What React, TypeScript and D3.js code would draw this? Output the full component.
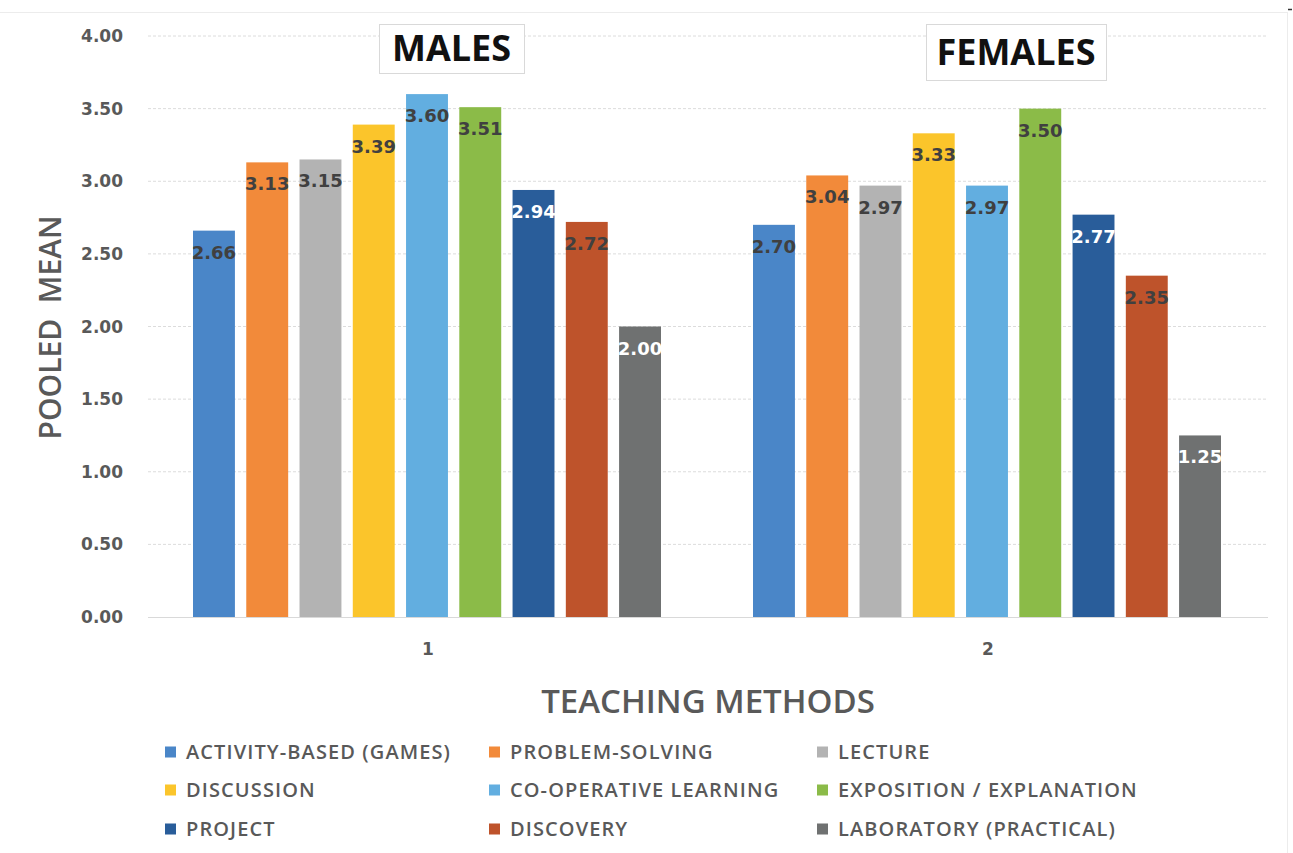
import React from "react";
import * as d3 from "d3";

// Pooled means by teaching method, for each gender group
const methods = [
  "ACTIVITY-BASED (GAMES)",
  "PROBLEM-SOLVING",
  "LECTURE",
  "DISCUSSION",
  "CO-OPERATIVE LEARNING",
  "EXPOSITION / EXPLANATION",
  "PROJECT",
  "DISCOVERY",
  "LABORATORY (PRACTICAL)",
];
const groups = ["1", "2"];
const groupTitles = ["MALES", "FEMALES"];
const malesMeans = [2.66, 3.13, 3.15, 3.39, 3.6, 3.51, 2.94, 2.72, 2.0];
const femalesMeans = [2.7, 3.04, 2.97, 3.33, 2.97, 3.5, 2.77, 2.35, 1.25];
const seriesColors = [
  "#4a86c8",
  "#f28a3a",
  "#b3b3b3",
  "#fbc52b",
  "#62aee0",
  "#8bbb48",
  "#295d9a",
  "#be532b",
  "#6f7171",
];
const labelColors = [
  "#404040",
  "#404040",
  "#404040",
  "#404040",
  "#404040",
  "#404040",
  "#ffffff",
  "#404040",
  "#ffffff",
];
const yTicks = [0, 0.5, 1, 1.5, 2, 2.5, 3, 3.5, 4];

const W = 1293;
const H = 853;
const plot = { left: 148, right: 1268, top: 36, bottom: 617 };

export default function App() {
  const values = [malesMeans, femalesMeans];
  const x0 = d3.scaleBand<string>().domain(groups).range([plot.left, plot.right]).padding(0);
  const x1 = d3
    .scaleBand<string>()
    .domain(methods)
    .range([45, 513])
    .paddingInner(0.213)
    .paddingOuter(0);
  const y = d3.scaleLinear().domain([0, 4]).range([plot.bottom, plot.top]);
  const fmt = d3.format(".2f");

  const legendCols = [165, 489, 817];
  const legendRows = [752, 790, 829];

  const titleBoxes = [
    { x: 379, y: 24, w: 145, h: 49 },
    { x: 926, y: 24, w: 180, h: 56 },
  ];

  return (
    <svg
      width={W}
      height={H}
      viewBox={`0 0 ${W} ${H}`}
      style={{ position: "absolute", left: 0, top: 0, background: "#fff" }}
    >
      <rect x={0} y={0} width={W} height={H} fill="#fff" />
      {/* outer chart frame */}
      <line x1={0} x2={1287} y1={12.5} y2={12.5} stroke="#ececec" strokeWidth={1} />
      <line x1={1287.5} x2={1287.5} y1={12} y2={853} stroke="#ececec" strokeWidth={1} />
      <line x1={1288} x2={1292} y1={9.5} y2={9.5} stroke="#333" strokeWidth={1.5} />

      {/* gridlines and y tick labels */}
      {yTicks.map((t) => (
        <g key={t}>
          {t > 0 && (
            <line
              x1={plot.left}
              x2={plot.right}
              y1={y(t)}
              y2={y(t)}
              stroke="#dcdcdc"
              strokeWidth={1}
              strokeDasharray="3,2"
            />
          )}
          <text
            x={123}
            y={y(t)}
            dy="0.36em"
            textAnchor="end"
            fontFamily="DejaVu Sans"
            fontWeight="bold"
            fontSize={17}
            fill="#595959"
          >
            {fmt(t)}
          </text>
        </g>
      ))}
      <line x1={plot.left} x2={plot.right} y1={plot.bottom + 0.5} y2={plot.bottom + 0.5} stroke="#d9d9d9" strokeWidth={1} />

      {/* bars */}
      {groups.map((g, gi) => (
        <g key={g} transform={`translate(${x0(g)},0)`}>
          {methods.map((m, mi) => {
            const v = values[gi][mi];
            const bx = x1(m)!;
            const bw = x1.bandwidth();
            return (
              <g key={m}>
                <rect x={bx} y={y(v)} width={bw} height={y(0) - y(v)} fill={seriesColors[mi]} />
                <text
                  x={bx + bw / 2}
                  y={y(v) + 28}
                  textAnchor="middle"
                  fontFamily="DejaVu Sans"
                  fontWeight="bold"
                  fontSize={18}
                  fill={labelColors[mi]}
                >
                  {fmt(v)}
                </text>
              </g>
            );
          })}
          <text
            x={x0.bandwidth() / 2}
            y={655}
            textAnchor="middle"
            fontFamily="DejaVu Sans"
            fontWeight="bold"
            fontSize={17}
            fill="#595959"
          >
            {g}
          </text>
        </g>
      ))}

      {/* group titles */}
      {titleBoxes.map((b, i) => (
        <g key={groupTitles[i]}>
          <rect x={b.x + 0.5} y={b.y + 0.5} width={b.w} height={b.h} fill="#fff" stroke="#d9d9d9" strokeWidth={1} />
          <text
            x={b.x + b.w / 2}
            y={b.y + b.h / 2}
            dy="0.36em"
            textAnchor="middle"
            fontFamily="Open Sans"
            fontWeight="bold"
            fontSize={36}
            fill="#111"
          >
            {groupTitles[i]}
          </text>
        </g>
      ))}

      {/* axis titles */}
      <text
        transform={`translate(61,${(plot.top + plot.bottom) / 2 + 1}) rotate(-90)`}
        textAnchor="middle"
        fontFamily="Open Sans"
        fontWeight={600}
        fontSize={30}
        fill="#595959"
        style={{ whiteSpace: "pre" }}
      >
        {"POOLED  MEAN"}
      </text>
      <text
        x={708}
        y={713}
        textAnchor="middle"
        fontFamily="Open Sans"
        fontWeight={600}
        fontSize={33}
        fill="#595959"
      >
        TEACHING METHODS
      </text>

      {/* legend */}
      {methods.map((m, i) => {
        const cx = legendCols[i % 3];
        const cy = legendRows[Math.floor(i / 3)];
        return (
          <g key={m}>
            <rect x={cx} y={cy - 5.5} width={11} height={11} fill={seriesColors[i]} />
            <text
              x={cx + 21}
              y={cy}
              dy="0.36em"
              fontFamily="Open Sans"
              fontWeight={600}
              fontSize={20}
              letterSpacing={1.1}
              fill="#595959"
            >
              {m}
            </text>
          </g>
        );
      })}
    </svg>
  );
}
